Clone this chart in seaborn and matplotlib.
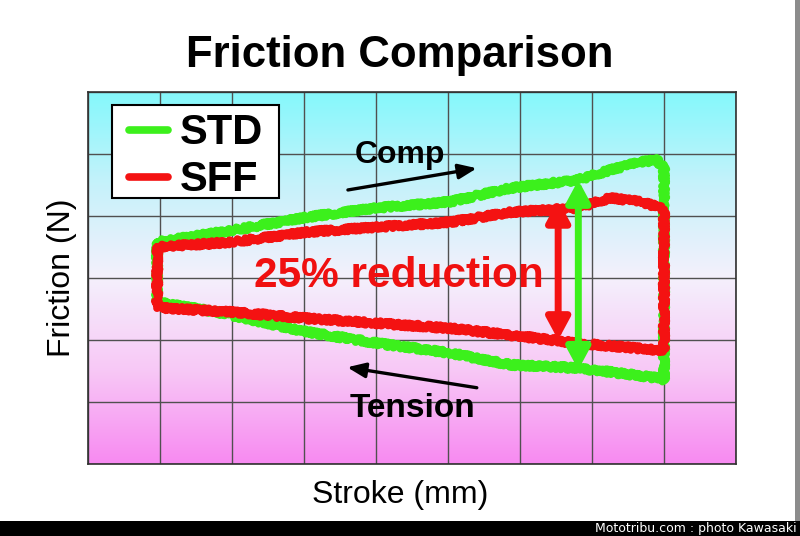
import numpy as np
import pandas as pd
import matplotlib
matplotlib.use('Agg')
import matplotlib.pyplot as plt
from matplotlib.colors import LinearSegmentedColormap
from matplotlib.lines import Line2D
from matplotlib.patches import Rectangle
import seaborn as sns

# friction loops (stroke in grid units, friction in grid units)
# upper branch = compression stroke (left->right), lower branch = tension stroke (right->left)
std_x = [0.96, 2.01, 3.04, 4.01, 5.03, 5.86, 6.79, 7.25, 7.67, 7.90, 8.00,
         8.00, 7.90, 6.79, 5.86, 5.03, 4.01, 3.04, 1.79, 1.00, 0.96, 0.96]
std_y = [3.58, 3.77, 3.98, 4.13, 4.23, 4.45, 4.58, 4.74, 4.87, 4.90, 4.77,
         1.35, 1.39, 1.55, 1.60, 1.79, 1.95, 2.13, 2.45, 2.60, 2.60, 3.58]
sff_x = [0.96, 2.01, 3.04, 4.01, 5.03, 5.86, 6.79, 7.25, 7.67, 7.90, 8.00,
         8.00, 7.90, 6.79, 5.86, 5.03, 4.01, 3.04, 2.01, 1.00, 0.96, 0.96]
sff_y = [3.50, 3.58, 3.74, 3.82, 3.90, 4.06, 4.13, 4.29, 4.23, 4.15, 4.10,
         1.84, 1.84, 1.95, 2.08, 2.19, 2.27, 2.35, 2.45, 2.52, 2.56, 3.50]

series_names = ['STD', 'SFF']
series_colors = {'STD': '#3cf01c', 'SFF': '#f41212'}

# the two "reduction" arrows at the end of the stroke
red_arrow = (6.53, 4.26, 2.00)   # x, top, bottom
green_arrow = (6.81, 4.58, 1.52)

df = pd.concat([
    pd.DataFrame({'x': std_x, 'y': std_y, 'series': 'STD'}),
    pd.DataFrame({'x': sff_x, 'y': sff_y, 'series': 'SFF'}),
], ignore_index=True)

sns.set_style('white')
plt.rcParams['font.family'] = ['Liberation Sans', 'DejaVu Sans']
plt.rcParams['text.color'] = 'black'

fig = plt.figure(figsize=(8, 5.36), dpi=100)
ax = fig.add_axes([88/800, 72/536, 648/800, 372/536])

# background gradient cyan -> white -> magenta
cmap = LinearSegmentedColormap.from_list('bg', ['#f78af1', '#f8c8f6', '#f4f0fc', '#c6f2fa', '#84f8fc'])
grad = np.linspace(0, 1, 256).reshape(-1, 1)
ax.imshow(grad, extent=[0, 9, 0, 6], origin='lower', aspect='auto', cmap=cmap, zorder=0)

sns.lineplot(data=df, x='x', y='y', hue='series', estimator=None, sort=False,
             palette=series_colors, hue_order=series_names, lw=5.5, legend=False, ax=ax, zorder=3)
for ln in ax.lines:
    ln.set_solid_joinstyle('round')
    ln.set_solid_capstyle('round')
    # noisy trace look
    ln.set_sketch_params(scale=2.4, length=2.5, randomness=3)

ax.set_xlim(0, 9)
ax.set_ylim(0, 6)
ax.set_xticks(range(10))
ax.set_yticks(range(7))
ax.set_xticklabels([])
ax.set_yticklabels([])
ax.tick_params(length=0)
ax.grid(True, color='#505050', lw=1)
for s in ax.spines.values():
    s.set_color('#303030')
    s.set_linewidth(1.2)
ax.set_xlabel('')
ax.set_ylabel('')

# double headed arrows
for (ax_x, top, bot), c in [(red_arrow, series_colors['SFF']), (green_arrow, series_colors['STD'])]:
    ax.annotate('', xy=(ax_x, top), xytext=(ax_x, bot),
                arrowprops=dict(arrowstyle='<|-|>,head_length=1.3,head_width=0.7',
                                color=c, lw=5, shrinkA=0, shrinkB=0), zorder=4)

# comp / tension arrows
ax.annotate('', xy=(5.40, 4.77), xytext=(3.61, 4.42),
            arrowprops=dict(arrowstyle='-|>,head_length=1.1,head_width=0.45',
                            color='black', lw=2.4, shrinkA=0, shrinkB=0))
ax.annotate('', xy=(3.60, 1.56), xytext=(5.40, 1.23),
            arrowprops=dict(arrowstyle='-|>,head_length=1.1,head_width=0.45',
                            color='black', lw=2.4, shrinkA=0, shrinkB=0))
ax.text(4.33, 4.98, 'Comp', fontsize=23, fontweight='bold', ha='center', va='center')
ax.text(4.50, 0.90, 'Tension', fontsize=24, fontweight='bold', ha='center', va='center')
ax.text(4.32, 3.03, '25% reduction', fontsize=30.5, fontweight='bold', color='#f01010',
        ha='center', va='center', zorder=5)

# legend box drawn separately (more side padding than top/bottom)
ax.add_patch(Rectangle((0.037, 0.715), 0.258, 0.25, transform=ax.transAxes,
                       facecolor='white', edgecolor='black', lw=1.5, zorder=5))
handles = [Line2D([0], [0], color=series_colors[n], lw=5.5) for n in series_names]
leg = ax.legend(handles, series_names, loc='upper left', bbox_to_anchor=(0.064, 0.943),
                borderaxespad=0, frameon=False,
                prop={'size': 30, 'weight': 'bold'}, handlelength=0.92, handletextpad=0.3,
                labelspacing=0.17, borderpad=0)
leg.set_zorder(6)

fig.text(0.5, 1 - 67/536, 'Friction Comparison', fontsize=31.5, fontweight='bold',
         ha='center', va='baseline')
fig.text(62/800, 1 - 278/536, 'Friction (N)', fontsize=23, rotation=90, ha='center', va='center')
fig.text(0.5, 1 - 503/536, 'Stroke (mm)', fontsize=23, ha='center', va='baseline')

# frame: grey shadow on the right and black credit strip at the bottom
fig.add_artist(Rectangle((795/800, 15/536), 5/800, 1, transform=fig.transFigure, color='#8c8c8c', lw=0))
fig.add_artist(Rectangle((0, 0), 1, 15/536, transform=fig.transFigure, color='black', lw=0))
fig.text(797/800, 7.5/536, 'Mototribu.com : photo Kawasaki', fontsize=9, color='white',
         ha='right', va='center', family=['DejaVu Sans'])

fig.savefig('out.png', dpi=100)
